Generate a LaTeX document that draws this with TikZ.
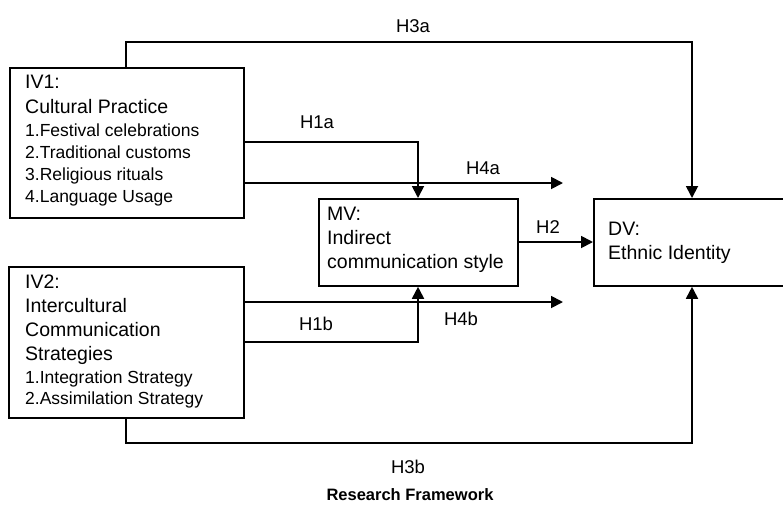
\documentclass[tikz,border=0pt]{standalone}
\usepackage{fontspec}
\setmainfont{Liberation Sans}
\usetikzlibrary{arrows.meta,calc}
\newcommand\hdsz{\fontsize{19.5}{24}\selectfont}
\newcommand\lssz{\fontsize{17.5}{21.5}\selectfont}
\tikzset{
  box/.style={draw, line width=1.8pt, inner sep=0pt},
  txt/.style={anchor=west, align=left, inner sep=0pt, font=\hdsz},
  lbl/.style={inner sep=0pt, font=\fontsize{18.5}{22}\selectfont},
  conn/.style={line width=1.8pt},
  arr/.style={conn, -{Triangle[length=12pt,width=12pt]}},
}
\begin{document}
\begin{tikzpicture}[x=1pt,y=-1pt]
\useasboundingbox (0,0) rectangle (783,506);
\clip (0,0) rectangle (783,506);
% boxes
\node[box, minimum width=234pt, minimum height=150pt, anchor=north west] (iv1) at (9,67) {};
\node[box, minimum width=235pt, minimum height=151pt, anchor=north west] (iv2) at (8,266) {};
\node[box, minimum width=199pt, minimum height=87pt, anchor=north west] (mv) at (318,198) {};
\node[box, minimum width=220pt, minimum height=87pt, anchor=north west] (dv) at (593,198) {};
% texts
\node[txt] (iv1t) at (25,141) {IV1:\\[1pt] Cultural Practice\\[-1pt] \lssz 1.Festival celebrations\\[-2pt] \lssz 2.Traditional customs\\[-2pt] \lssz 3.Religious rituals\\[-2pt] \lssz 4.Language Usage};
\node[txt] (iv2t) at (25,342) {IV2:\\ Intercultural\\ Communication\\ Strategies\\[-1pt] \lssz 1.Integration Strategy\\[-3pt] \lssz 2.Assimilation Strategy};
\node[txt] (mvt) at (327,240) {MV:\\ Indirect\\ communication style};
\node[txt] (dvt) at (608,243) {DV:\\ Ethnic Identity};
% helper coordinates
\coordinate (xa) at (126,0);
\coordinate (xd) at (692,0);
\coordinate (xm) at (418,0);
\coordinate (top) at (0,42);
\coordinate (bot) at (0,443);
\coordinate (h1a) at (0,142);
\coordinate (h4a) at (0,183);
\coordinate (h4b) at (0,302);
\coordinate (h1b) at (0,342);
\coordinate (h2) at (0,242);
\coordinate (e4a) at (563,183);
\coordinate (e4b) at (563,302);
% connectors
\draw[arr] (xa |- iv1.north) -- (xa |- top) -- (xd |- top) -- (xd |- dv.north);
\draw[arr] (iv1.east |- h1a) -- (xm |- h1a) -- (xm |- mv.north);
\draw[arr] (iv1.east |- h4a) -- (e4a);
\draw[arr] (mv.east |- h2) -- (dv.west |- h2);
\draw[arr] (iv2.east |- h4b) -- (e4b);
\draw[arr] (iv2.east |- h1b) -- (xm |- h1b) -- (xm |- mv.south);
\draw[arr] (xa |- iv2.south) -- (xa |- bot) -- (xd |- bot) -- (xd |- dv.south);
% labels
\node[lbl] (l3a) at (413,26) {H3a};
\node[lbl] (l1a) at (317,122) {H1a};
\node[lbl] (l4a) at (483,168) {H4a};
\node[lbl] (l2) at (548,227) {H2};
\node[lbl] (l4b) at (461,319) {H4b};
\node[lbl] (l1b) at (316,324) {H1b};
\node[lbl] (l3b) at (408,467) {H3b};
\node[inner sep=0pt, font=\fontsize{16.5}{20}\selectfont\bfseries] (cap) at (410,495) {Research Framework};
\end{tikzpicture}
\end{document}
